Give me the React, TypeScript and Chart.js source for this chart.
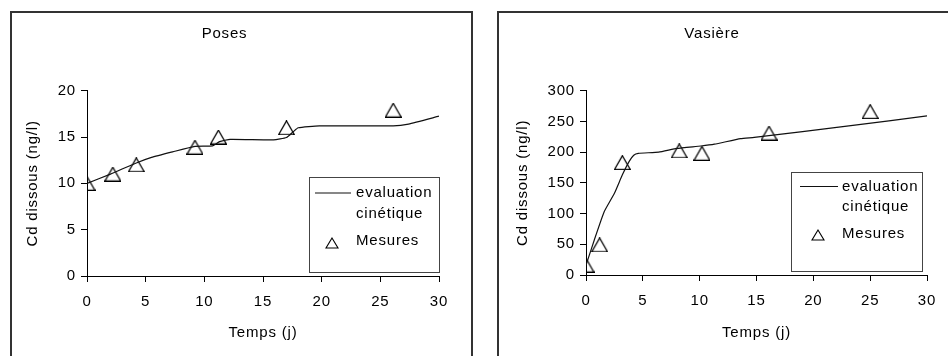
import React, { useEffect, useRef } from "react";
import { Chart, registerables } from "chart.js";

Chart.register(...registerables);

// ---------- data ----------
const posesLineX = [0, 2, 4.2, 5.5, 7.3, 9.2, 10.7, 11.3, 12.2, 15.9, 17.0, 17.6, 18.0, 19.8, 26.1, 27.4, 30];
const posesLineY = [10.0, 11.0, 12.2, 12.8, 13.4, 14.0, 14.05, 14.5, 14.75, 14.7, 14.95, 15.6, 16.0, 16.2, 16.2, 16.4, 17.25];
const posesMesX = [0, 2.2, 4.2, 9.2, 11.2, 17, 26.1];
const posesMesY = [10, 11, 12, 13.9, 15, 16, 17.9];

const vasLineX = [0, 0.73, 1.6, 2.5, 3.2, 3.8, 4.2, 4.6, 6.4, 8.0, 10.1, 11.3, 13.6, 14.8, 23.3, 30];
const vasLineY = [16, 57, 103, 133, 163, 185, 195, 198, 200, 206, 210, 213, 222, 224, 243, 259];
const vasMesX = [0, 1.2, 3.2, 8.2, 10.2, 16.1, 25];
const vasMesY = [16, 49, 183, 202, 198, 231, 266];

const xTicks = [0, 5, 10, 15, 20, 25, 30];
const posesYTicks = [0, 5, 10, 15, 20];
const vasYTicks = [0, 50, 100, 150, 200, 250, 300];

const titles = ["Poses", "Vasière"];
const xTitle = "Temps (j)";
const yTitle = "Cd dissous (ng/l)";
const legendLine = ["evaluation", "cinétique"];
const legendMarker = "Mesures";

const FONT = "'Liberation Sans', Arial, sans-serif";
const SIZE = 15;
const SPACING = "0.8px";

function makeTriangle(): HTMLCanvasElement {
  const c = document.createElement("canvas");
  c.width = 17;
  c.height = 15;
  const g = c.getContext("2d")!;
  g.strokeStyle = "#000";
  g.lineWidth = 1.2;
  g.beginPath();
  g.moveTo(8.5, 0.6);
  g.lineTo(0.6, 14.4);
  g.lineTo(16.4, 14.4);
  g.closePath();
  g.stroke();
  return c;
}

type LegendBox = { x: number; y: number; w: number; h: number; l0: number; l1: number; tx: number; r1: number; r2: number; r3: number; triX: number; triY: number };

function buildChart(
  canvas: HTMLCanvasElement,
  title: string,
  lineX: number[],
  lineY: number[],
  mesX: number[],
  mesY: number[],
  yTicks: number[],
  yAxisWidth: number,
  xAxisHeight: number,
  padRight: number,
  yTitlePad: number,
  box: LegendBox
) {
  const tri = makeTriangle();
  const spacingPlugin = {
    id: "spacing",
    beforeLayout(chart: any) {
      chart.ctx.letterSpacing = SPACING;
    },
    beforeDraw(chart: any) {
      chart.ctx.letterSpacing = SPACING;
    },
  };
  const legendPlugin = {
    id: "customLegend",
    afterDraw(chart: any) {
      const ctx = chart.ctx as CanvasRenderingContext2D;
      ctx.save();
      ctx.letterSpacing = SPACING;
      ctx.strokeStyle = "#444";
      ctx.lineWidth = 1;
      ctx.strokeRect(Math.round(box.x) + 0.5, Math.round(box.y) + 0.5, box.w, box.h);
      ctx.strokeStyle = "#111";
      ctx.lineWidth = 1.2;
      ctx.beginPath();
      ctx.moveTo(box.x + box.l0, box.y + box.r1);
      ctx.lineTo(box.x + box.l1, box.y + box.r1);
      ctx.stroke();
      ctx.fillStyle = "#000";
      ctx.font = `${SIZE}px ${FONT}`;
      ctx.textBaseline = "middle";
      ctx.textAlign = "left";
      ctx.fillText(legendLine[0], box.x + box.tx, box.y + box.r1);
      ctx.fillText(legendLine[1], box.x + box.tx, box.y + box.r2);
      ctx.fillText(legendMarker, box.x + box.tx, box.y + box.r3);
      const cx = box.x + box.triX;
      const cy = box.y + box.triY;
      ctx.strokeStyle = "#000";
      ctx.lineWidth = 1.1;
      ctx.beginPath();
      ctx.moveTo(cx, cy - 5);
      ctx.lineTo(cx - 6, cy + 5);
      ctx.lineTo(cx + 6, cy + 5);
      ctx.closePath();
      ctx.stroke();
      ctx.restore();
    },
  };

  const axisCommon = {
    type: "linear" as const,
    border: { display: true, color: "#000", width: 1 },
    grid: { display: true, drawOnChartArea: false, drawTicks: true, tickLength: 6, color: "#000" },
  };

  return new Chart(canvas, {
    type: "scatter",
    data: {
      datasets: [
        {
          label: "evaluation cinétique",
          data: lineX.map((x, i) => ({ x, y: lineY[i] })),
          showLine: true,
          borderColor: "#111",
          borderWidth: 1.2,
          pointRadius: 0,
          tension: 0.15,
          fill: false,
        },
        {
          label: legendMarker,
          data: mesX.map((x, i) => ({ x, y: mesY[i] })),
          showLine: false,
          pointStyle: tri as any,
          pointRadius: 8,
        },
      ],
    },
    options: {
      animation: false,
      responsive: false,
      events: [],
      layout: { padding: { left: 0, right: padRight, top: 0, bottom: 0 } },
      plugins: {
        legend: { display: false },
        tooltip: { enabled: false },
        title: {
          display: true,
          text: title,
          color: "#000",
          font: { family: FONT, size: SIZE, weight: "normal" as const, lineHeight: 1.2 },
          padding: { top: 24.5, bottom: 48.2 },
        },
      },
      scales: {
        x: {
          ...axisCommon,
          min: 0,
          max: 30,
          afterBuildTicks(scale: any) {
            scale.ticks = xTicks.map((v) => ({ value: v }));
          },
          afterFit(scale: any) {
            scale.height = xAxisHeight;
          },
          ticks: { color: "#000", padding: 11, font: { family: FONT, size: SIZE }, maxRotation: 0, autoSkip: false },
          title: {
            display: true,
            text: xTitle,
            color: "#000",
            font: { family: FONT, size: SIZE, lineHeight: 1.2 },
            padding: { top: 0, bottom: 14.5 },
          },
        },
        y: {
          ...axisCommon,
          min: yTicks[0],
          max: yTicks[yTicks.length - 1],
          afterBuildTicks(scale: any) {
            scale.ticks = yTicks.map((v) => ({ value: v }));
          },
          afterFit(scale: any) {
            scale.width = yAxisWidth;
          },
          ticks: { color: "#000", padding: 5, font: { family: FONT, size: SIZE }, autoSkip: false },
          title: {
            display: true,
            text: yTitle,
            color: "#000",
            font: { family: FONT, size: SIZE, lineHeight: 1.2 },
            padding: { top: yTitlePad, bottom: 0 },
          },
        },
      },
    } as any,
    plugins: [spacingPlugin, legendPlugin],
  });
}

export default function App() {
  const leftRef = useRef<HTMLCanvasElement>(null);
  const rightRef = useRef<HTMLCanvasElement>(null);

  useEffect(() => {
    const a = buildChart(
      leftRef.current!,
      titles[0],
      posesLineX,
      posesLineY,
      posesMesX,
      posesMesY,
      posesYTicks,
      77,
      80,
      34,
      14,
      { x: 299, y: 177, w: 130, h: 95, l0: 6, l1: 42, tx: 47, r1: 16, r2: 37, r3: 64, triX: 23, triY: 66 }
    );
    const b = buildChart(
      rightRef.current!,
      titles[1],
      vasLineX,
      vasLineY,
      vasMesX,
      vasMesY,
      vasYTicks,
      89,
      81,
      30,
      16.5,
      { x: 294, y: 172, w: 131, h: 99, l0: 9, l1: 47, tx: 51, r1: 14.5, r2: 34.5, r3: 62, triX: 27, triY: 63 }
    );
    return () => {
      a.destroy();
      b.destroy();
    };
  }, []);

  return (
    <div style={{ position: "fixed", left: 0, top: 0, width: 948, height: 356, overflow: "hidden", background: "#fff" }}>
      <div style={{ position: "absolute", left: 10, top: 11, width: 463, height: 400, border: "2px solid #333", boxSizing: "border-box" }} />
      <div style={{ position: "absolute", left: 497, top: 11, width: 470, height: 400, border: "2px solid #333", boxSizing: "border-box" }} />
      <canvas ref={leftRef} width={463} height={356} style={{ position: "absolute", left: 10, top: 0 }} />
      <canvas ref={rightRef} width={460} height={356} style={{ position: "absolute", left: 497, top: 0 }} />
    </div>
  );
}
